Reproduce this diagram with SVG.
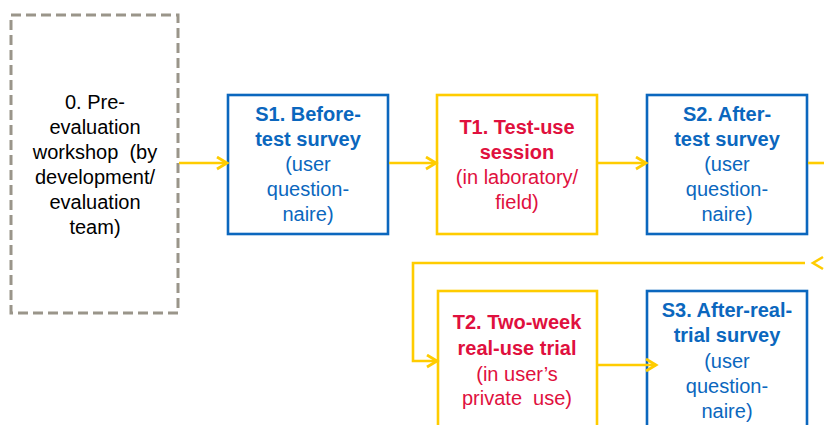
<svg xmlns="http://www.w3.org/2000/svg" width="824" height="425" viewBox="0 0 824 425">
<defs>
<marker id="arr" markerUnits="userSpaceOnUse" markerWidth="14" markerHeight="16" refX="11" refY="7" orient="auto">
<polyline points="1,1 11,7 1,13" fill="none" stroke="#FFCC00" stroke-width="2.8"/>
</marker>
<style>
text{font-family:"Liberation Sans",Arial,sans-serif;font-size:20px;text-anchor:middle}
.b{font-weight:bold}
.blue{fill:#0B67BE}
.red{fill:#E0103E}
.blk{fill:#000}
.bb{fill:#fff;stroke:#0B67BE;stroke-width:2.6}
.yb{fill:#fff;stroke:#FFCC00;stroke-width:2.6}
.db{fill:#fff;stroke:#9A958A;stroke-width:3;stroke-dasharray:10 5}
.c{fill:none;stroke:#FFCC00;stroke-width:2.6}
</style>
</defs>
<rect width="824" height="425" fill="#fff"/>
<g id="n0">
<rect class="db" x="11" y="15" width="167" height="298"/>
<text class="blk" x="95" y="109">0. Pre-</text>
<text class="blk" x="95" y="134">evaluation</text>
<text class="blk" x="95" y="159" xml:space="preserve">workshop  (by</text>
<text class="blk" x="95" y="184">development/</text>
<text class="blk" x="95" y="209">evaluation</text>
<text class="blk" x="95" y="234">team)</text>
</g>
<g id="s1">
<rect class="bb" x="228" y="95" width="160" height="139"/>
<text class="blue b" x="308" y="121">S1. Before-</text>
<text class="blue b" x="308" y="146">test survey</text>
<text class="blue" x="308" y="171">(user</text>
<text class="blue" x="308" y="196">question-</text>
<text class="blue" x="308" y="221">naire)</text>
</g>
<g id="t1">
<rect class="yb" x="437" y="95" width="160" height="139"/>
<text class="red b" x="517" y="134">T1. Test-use</text>
<text class="red b" x="517" y="159">session</text>
<text class="red" x="517" y="184">(in laboratory/</text>
<text class="red" x="517" y="209">field)</text>
</g>
<g id="s2">
<rect class="bb" x="647" y="95" width="160" height="139"/>
<text class="blue b" x="727" y="121">S2. After-</text>
<text class="blue b" x="727" y="146">test survey</text>
<text class="blue" x="727" y="171">(user</text>
<text class="blue" x="727" y="196">question-</text>
<text class="blue" x="727" y="221">naire)</text>
</g>
<g id="t2">
<rect class="yb" x="438" y="291" width="159" height="150"/>
<text class="red b" x="517" y="329">T2. Two-week</text>
<text class="red b" x="517" y="355">real-use trial</text>
<text class="red" x="517" y="381">(in user’s</text>
<text class="red" x="517" y="405" xml:space="preserve">private  use)</text>
</g>
<g id="s3">
<rect class="bb" x="647" y="291" width="160" height="150"/>
<text class="blue b" x="727" y="317">S3. After-real-</text>
<text class="blue b" x="727" y="342">trial survey</text>
<text class="blue" x="727" y="368">(user</text>
<text class="blue" x="727" y="393">question-</text>
<text class="blue" x="727" y="418">naire)</text>
</g>
<g id="connectors">
<path class="c" d="M179,163 H227" marker-end="url(#arr)"/>
<path class="c" d="M389,163 H436" marker-end="url(#arr)"/>
<path class="c" d="M598,163 H646" marker-end="url(#arr)"/>
<path class="c" d="M808,163 H824"/>
<polyline class="c" stroke-width="2.8" points="823,257 813,263 823,269"/>
<path class="c" d="M805,263 H413 V361 H437" marker-end="url(#arr)"/>
<path class="c" d="M598,365 H656" marker-end="url(#arr)"/>
</g>
</svg>
